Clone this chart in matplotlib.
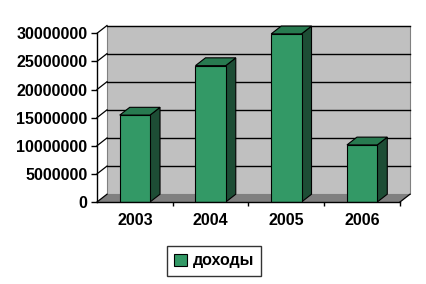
import matplotlib
matplotlib.use("Agg")
import matplotlib.pyplot as plt
from matplotlib.patches import Polygon, Rectangle
from matplotlib.lines import Line2D

categories = ["2003", "2004", "2005", "2006"]
values = [15450000, 24250000, 29900000, 10150000]
series_name = "доходы"
yticks = [0, 5000000, 10000000, 15000000, 20000000, 25000000, 30000000]

FACE = "#339966"
SIDE = "#1D4D35"
TOP = "#287A50"
WALL = "#C0C0C0"
FLOOR = "#808080"

plt.rcParams['font.family'] = ['Liberation Sans', 'DejaVu Sans']
fig = plt.figure(figsize=(4.27, 2.84), dpi=100)
W, H = 427, 284
left, right, top, bottom = 97, 400, 33.3, 202
ax = fig.add_axes([left / W, 1 - bottom / H, (right - left) / W, (bottom - top) / H])
ax.set_xlim(-0.5, len(categories) - 0.5)
ax.set_ylim(0, 30000000)

# depth offset in data units
DXP, DYP = 10, 7.8
ddx = DXP / (right - left) * (len(categories))
ddy = DYP / (bottom - top) * 30000000
x0, x1 = -0.5, len(categories) - 0.5
ymax = 30000000

for s in ax.spines.values():
    s.set_visible(False)
ax.patch.set_visible(False)

# back wall
ax.add_patch(Rectangle((x0 + ddx, ddy), x1 - x0, ymax, facecolor=WALL, edgecolor=FLOOR,
                       lw=0.8, clip_on=False, zorder=0))
# floor
ax.add_patch(Polygon([(x0, 0), (x1, 0), (x1 + ddx, ddy), (x0 + ddx, ddy)], closed=True,
                     facecolor=FLOOR, edgecolor='none', clip_on=False, zorder=0.5))
# gridlines on back wall and side wall
for t in yticks[1:]:
    ax.add_line(Line2D([x0 + ddx, x1 + ddx], [t + ddy, t + ddy], color='black', lw=1.0,
                       clip_on=False, zorder=0.8))
for t in yticks:
    ax.add_line(Line2D([x0, x0 + ddx], [t, t + ddy], color='black', lw=0.9,
                       clip_on=False, zorder=0.8))
ax.add_line(Line2D([x1, x1 + ddx], [0, ddy], color='black', lw=0.9, clip_on=False, zorder=0.8))

# bars
bw = 0.40
xs = list(range(len(categories)))
ax.bar(xs, values, width=bw, color=FACE, edgecolor='black', linewidth=0.8, zorder=3)
for x, v in zip(xs, values):
    xr = x + bw / 2
    xl = x - bw / 2
    ax.add_patch(Polygon([(xr, 0), (xr + ddx, ddy), (xr + ddx, v + ddy), (xr, v)], closed=True,
                         facecolor=SIDE, edgecolor='black', lw=0.8, clip_on=False, zorder=2.9))
    ax.add_patch(Polygon([(xl, v), (xl + ddx, v + ddy), (xr + ddx, v + ddy), (xr, v)], closed=True,
                         facecolor=TOP, edgecolor='black', lw=0.8, clip_on=False, zorder=2.9))

# axes lines
ax.add_line(Line2D([x0, x0], [0, ymax], color='black', lw=1.0, clip_on=False, zorder=4))
ax.add_line(Line2D([x0, x1], [0, 0], color='black', lw=1.0, clip_on=False, zorder=4))

ax.set_yticks(yticks)
ax.set_yticklabels([str(t) for t in yticks])
ax.tick_params(axis='y', length=4, width=1, pad=3, labelsize=11.5, direction='out')
for lab in ax.get_yticklabels():
    lab.set_fontweight('bold')

ax.set_xticks(xs)
ax.set_xticklabels(categories)
ax.tick_params(axis='x', which='major', length=0, pad=8, labelsize=11.5)
for lab in ax.get_xticklabels():
    lab.set_fontweight('bold')
ax.set_xticks([0.5, 1.5, 2.5, 3.5], minor=True)
ax.tick_params(axis='x', which='minor', length=3, width=1, direction='out')

# legend
leg = fig.legend([Rectangle((0, 0), 1, 1, facecolor=FACE, edgecolor='black', lw=0.8)],
                 [series_name], loc='center', bbox_to_anchor=(214 / W, 1 - 261 / H),
                 frameon=True, fancybox=False, edgecolor='black', handlelength=0.8,
                 handleheight=0.8, handletextpad=0.4, borderpad=0.45,
                 prop={'size': 11.5, 'weight': 'bold'})
leg.get_frame().set_linewidth(1.0)

fig.savefig("out.png", dpi=100)
